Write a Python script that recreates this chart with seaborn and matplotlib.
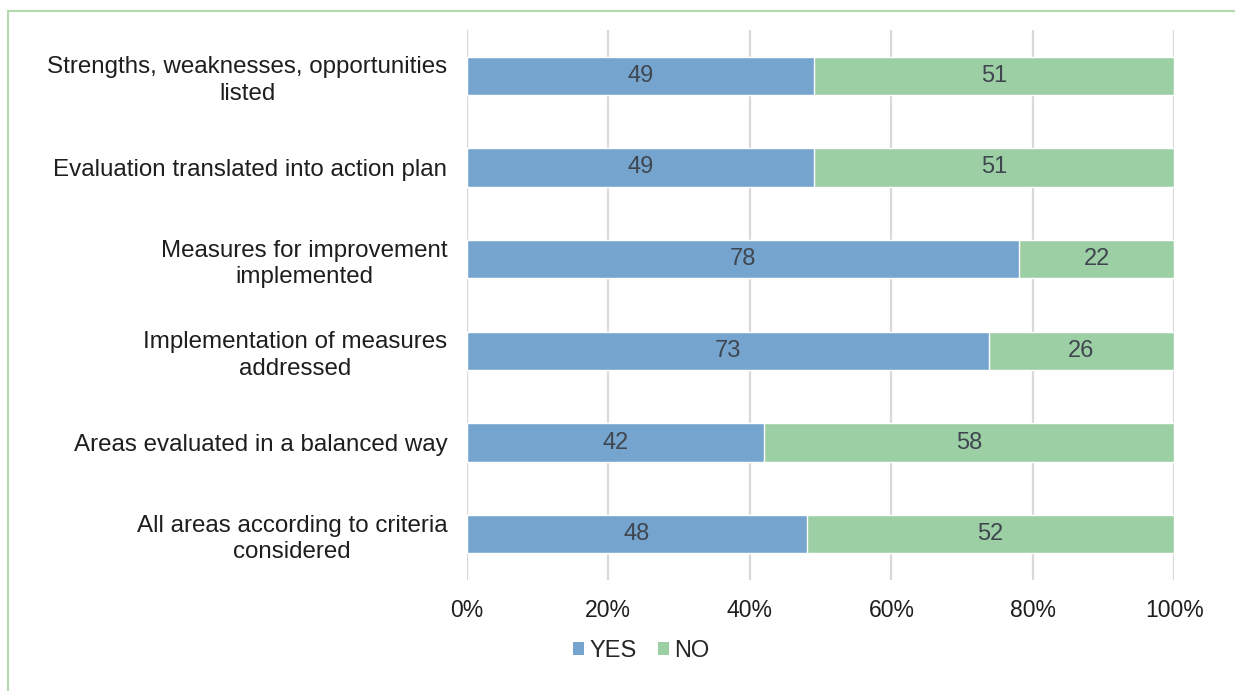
import matplotlib
matplotlib.use("Agg")
import matplotlib.pyplot as plt
from matplotlib.lines import Line2D
from matplotlib.patches import Patch
import seaborn as sns
import pandas as pd

categories = [
    "Strengths, weaknesses, opportunities\nlisted",
    "Evaluation translated into action plan",
    "Measures for improvement\nimplemented",
    "Implementation of measures\naddressed",
    "Areas evaluated in a balanced way",
    "All areas according to criteria\nconsidered",
]
yes_values = [49, 49, 78, 73, 42, 48]
no_values = [51, 51, 22, 26, 58, 52]
tick_labels = ["0%", "20%", "40%", "60%", "80%", "100%"]

BLUE = "#75A5CF"
GREEN = "#9DCFA5"
TEXT = "#3F4650"
LABEL = "#1E1E1E"

sns.set_theme(style="white")
plt.rcParams["font.family"] = ["Liberation Sans", "DejaVu Sans"]

df = pd.DataFrame({"category": categories, "yes": yes_values, "no": no_values})
totals = df["yes"] + df["no"]
df["yes_pct"] = df["yes"] / totals * 100
df["total_pct"] = 100.0

fig = plt.figure(figsize=(12.35, 6.91), dpi=100)
ax = fig.add_axes([0.378, 0.1606, 0.573, 0.796])

bar_w = 0.42
sns.barplot(data=df, y="category", x="total_pct", color=GREEN, orient="h",
            width=bar_w, ax=ax, saturation=1, zorder=2)
sns.barplot(data=df, y="category", x="yes_pct", color=BLUE, orient="h",
            width=bar_w, ax=ax, saturation=1, zorder=3)

# segment value labels
for i, row in df.iterrows():
    ax.text(row["yes_pct"] / 2, i, str(row["yes"]), ha="center", va="center",
            fontsize=17, color=TEXT, zorder=4)
    ax.text(row["yes_pct"] + (100 - row["yes_pct"]) / 2, i, str(row["no"]),
            ha="center", va="center", fontsize=17, color=TEXT, zorder=4)

ax.set_xlim(0, 100)
ax.set_ylim(len(categories) - 0.5, -0.5)
ax.set_xticks([0, 20, 40, 60, 80, 100])
ax.set_xticklabels(tick_labels, fontsize=16.6, color=LABEL)
ax.set_yticks(range(len(categories)))
ax.set_yticklabels(categories, fontsize=17.4, color=LABEL,
                   multialignment="center", linespacing=1.25)
ax.tick_params(axis="x", length=0, pad=14)
ax.tick_params(axis="y", length=0, pad=14)
ax.set_xlabel("")
ax.set_ylabel("")
ax.grid(axis="x", color="#D9D9D9", linewidth=1.6, zorder=0)
ax.set_axisbelow(True)
for s in ax.spines.values():
    s.set_visible(False)

handles = [Patch(facecolor=BLUE, edgecolor="none", label="YES"),
           Patch(facecolor=GREEN, edgecolor="none", label="NO")]
fig.legend(handles=handles, loc="center", bbox_to_anchor=(0.519, 0.058),
           ncol=2, frameon=False, fontsize=17, handlelength=0.5,
           handleheight=0.5, handletextpad=0.2, columnspacing=0.9)

# thin frame lines along the top and left edges
frame_color = "#B5D8B0"
fig.add_artist(Line2D([8 / 1235, 1.0], [1 - 11 / 691, 1 - 11 / 691],
                      transform=fig.transFigure, color=frame_color, linewidth=1.5))
fig.add_artist(Line2D([8 / 1235, 8 / 1235], [0.0, 1 - 11 / 691],
                      transform=fig.transFigure, color=frame_color, linewidth=1.5))

fig.savefig("out.png", dpi=100, facecolor="white")
